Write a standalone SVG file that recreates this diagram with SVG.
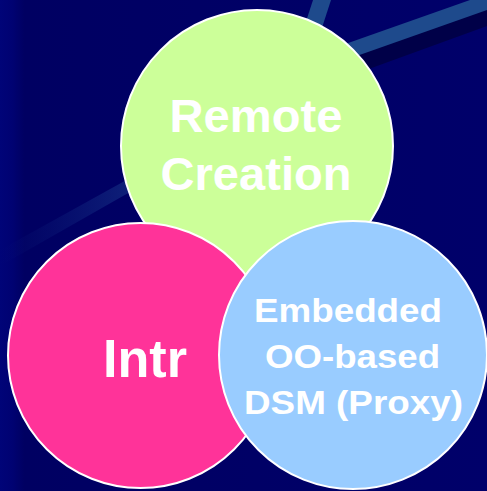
<svg xmlns="http://www.w3.org/2000/svg" width="487" height="491" viewBox="0 0 487 491">
<defs>
<style>
.c{stroke:#ffffff;stroke-width:2}
.t{font-family:"Liberation Sans",Arial,sans-serif;font-weight:bold;fill:#ffffff;text-anchor:middle}
</style>
<linearGradient id="bg" x1="0" y1="0" x2="1" y2="0">
<stop offset="0" stop-color="#000478"/>
<stop offset="0.025" stop-color="#000272"/>
<stop offset="0.05" stop-color="#000062"/>
<stop offset="1" stop-color="#00006a"/>
</linearGradient>
<linearGradient id="faint" x1="0" y1="0" x2="1" y2="0">
<stop offset="0" stop-color="#0a1a78" stop-opacity="0"/>
<stop offset="1" stop-color="#12287e"/>
</linearGradient>
</defs>
<rect width="487" height="491" fill="url(#bg)"/>
<polygon points="0,250 130,178 130,192 0,266" fill="url(#faint)" opacity="0.8"/>
<polygon points="300,72 487,4 487,26 300,94" fill="#000048"/>
<polygon points="300,60 487,-6 487,10 300,76" fill="#1e4a8c"/>
<polygon points="313,0 331,0 318,40 300,40" fill="#1e4a8c"/>
<g id="remote">
<circle class="c" cx="257" cy="146" r="136" fill="#ccff99"/>
<text class="t" x="256" y="132" font-size="46" textLength="173" lengthAdjust="spacingAndGlyphs">Remote</text>
<text class="t" x="256" y="190" font-size="46" textLength="191" lengthAdjust="spacingAndGlyphs">Creation</text>
</g>
<g id="intr">
<circle class="c" cx="140.5" cy="355.5" r="132.5" fill="#ff3399"/>
<text class="t" x="145" y="377" font-size="54" textLength="84" lengthAdjust="spacingAndGlyphs">Intr</text>
</g>
<g id="embedded">
<circle class="c" cx="353" cy="355" r="134" fill="#99ccff"/>
<text class="t" x="348" y="322" font-size="34" textLength="188" lengthAdjust="spacingAndGlyphs">Embedded</text>
<text class="t" x="352.5" y="368" font-size="34" textLength="175" lengthAdjust="spacingAndGlyphs">OO-based</text>
<text class="t" x="353.5" y="414" font-size="34" textLength="219" lengthAdjust="spacingAndGlyphs">DSM (Proxy)</text>
</g>
<g id="connectors"></g>
</svg>
